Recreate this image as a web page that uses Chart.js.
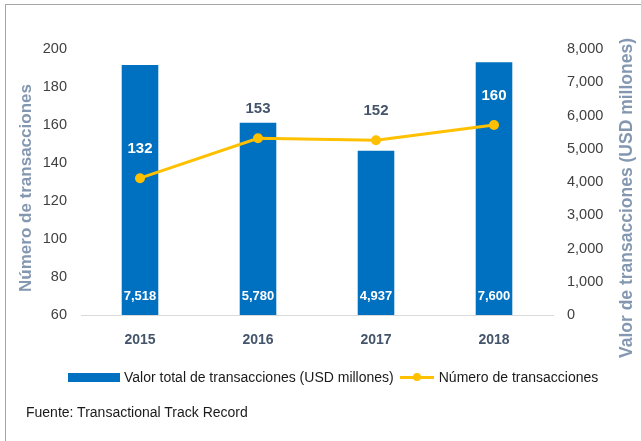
<!DOCTYPE html>
<html>
<head>
<meta charset="utf-8">
<script src="https://cdn.jsdelivr.net/npm/chart.js@4/dist/chart.umd.min.js"></script>
<style>
  body { margin: 0; background: #fff; }
  #wrap { position: relative; width: 641px; height: 441px; overflow: hidden;
          font-family: 'Liberation Sans', Arial, sans-serif; }
  #frame { position: absolute; left: 5px; top: 4px; width: 700px; height: 500px;
           border: 1px solid #a6a6a6; }
  #chart { position: absolute; left: 0; top: 0; }
  #legend { position: absolute; left: 68px; top: 369px; display: flex; align-items: center;
            font-size: 14px; color: #1a1a1a; white-space: nowrap; }
  .key-bar { display: inline-block; width: 52px; height: 9px; background: #0070C0; margin-right: 4px; }
  .key-line { display: inline-block; position: relative; width: 34px; height: 3px;
              background: #FFC000; margin: 0 5px 0 6px; }
  .key-line i { position: absolute; left: 13px; top: -3px; width: 8px; height: 8px;
                border-radius: 50%; background: #FFC000; }
  #fuente { position: absolute; left: 26px; top: 404px; font-size: 14px; color: #1a1a1a; }
</style>
</head>
<body>
<div id="wrap">
  <div id="frame"></div>
  <canvas id="chart" width="641" height="441"></canvas>
  <div id="legend"></div>
  <div id="fuente">Fuente: Transactional Track Record</div>
</div>
<script>
// Data
const years = ['2015', '2016', '2017', '2018'];
const valorTotal = [7518, 5780, 4937, 7600];          // USD millones (right axis)
const numTransacciones = [132, 153, 152, 160];        // left axis
const leftAxisRange = [60, 200, 20];                  // min, max, step
const rightAxisRange = [0, 8000, 1000];

const barLabel = 'Valor total de transacciones (USD millones)';
const lineLabel = 'Número de transacciones';
const leftTitle = 'Número de transacciones';
const rightTitle = 'Valor de transacciones (USD millones)';

const FONT = "'Liberation Sans', Arial, sans-serif";
const fmt = (v) => v.toLocaleString('en-US');

// Data labels and rotated axis titles
const extras = {
  id: 'extras',
  afterDatasetsDraw(chart) {
    const ctx = chart.ctx;
    const area = chart.chartArea;
    const lineMeta = chart.getDatasetMeta(0);
    const barMeta = chart.getDatasetMeta(1);
    ctx.save();
    ctx.textAlign = 'center';
    ctx.textBaseline = 'middle';

    ctx.font = 'bold 13px ' + FONT;
    ctx.fillStyle = '#ffffff';
    barMeta.data.forEach((bar, i) => {
      ctx.fillText(fmt(valorTotal[i]), bar.x, area.bottom - 19);
    });

    ctx.font = 'bold 15px ' + FONT;
    lineMeta.data.forEach((pt, i) => {
      const y = pt.y - 29;
      ctx.fillStyle = y > barMeta.data[i].y ? '#ffffff' : '#44546a';
      ctx.fillText(String(numTransacciones[i]), pt.x, y);
    });

    ctx.fillStyle = '#8497b0';
    ctx.font = 'bold 17px ' + FONT;
    ctx.translate(26, 188);
    ctx.rotate(-Math.PI / 2);
    ctx.fillText(leftTitle, 0, 0);
    ctx.setTransform(1, 0, 0, 1, 0, 0);
    ctx.font = 'bold 17.5px ' + FONT;
    ctx.translate(627, 198);
    ctx.rotate(-Math.PI / 2);
    ctx.fillText(rightTitle, 0, 0);
    ctx.restore();
  }
};

const chart = new Chart(document.getElementById('chart'), {
  type: 'bar',
  data: {
    labels: years,
    datasets: [
      {
        type: 'line',
        label: lineLabel,
        data: numTransacciones,
        yAxisID: 'y',
        order: 0,
        borderColor: '#FFC000',
        backgroundColor: '#FFC000',
        borderWidth: 3,
        pointRadius: 5,
        pointBackgroundColor: '#FFC000',
        pointBorderWidth: 0,
        tension: 0,
      },
      {
        type: 'bar',
        label: barLabel,
        data: valorTotal,
        yAxisID: 'y1',
        order: 1,
        backgroundColor: '#0070C0',
        categoryPercentage: 1,
        barPercentage: 0.31,
      },
    ],
  },
  options: {
    responsive: false,
    animation: false,
    layout: { padding: { top: 49, bottom: 76, left: 0, right: 0 } },
    plugins: { legend: { display: false }, tooltip: { enabled: false } },
    scales: {
      x: {
        grid: { display: false, drawTicks: false },
        border: { display: true, color: '#d9d9d9', width: 1 },
        ticks: { color: '#44546a', font: { family: FONT, size: 14, weight: 'bold' }, padding: 17 },
        afterFit: (s) => { s.height = 50; },
      },
      y: {
        position: 'left',
        min: leftAxisRange[0],
        max: leftAxisRange[1],
        grid: { display: false, drawTicks: false },
        border: { display: false },
        ticks: { stepSize: leftAxisRange[2], color: '#404040', padding: 14,
                 font: { family: FONT, size: 14.5 } },
        afterFit: (s) => { s.width = 81; },
      },
      y1: {
        position: 'right',
        min: rightAxisRange[0],
        max: rightAxisRange[1],
        grid: { display: false, drawTicks: false },
        border: { display: false },
        ticks: { stepSize: rightAxisRange[2], color: '#404040', padding: 14,
                 font: { family: FONT, size: 14.5 }, callback: (v) => fmt(v) },
        afterFit: (s) => { s.width = 88; },
      },
    },
  },
  plugins: [extras],
});

// HTML legend built from the datasets
const legend = document.getElementById('legend');
const barDs = chart.data.datasets[1];
const lineDs = chart.data.datasets[0];
legend.innerHTML =
  '<span class="key-bar"></span><span>' + barDs.label + '</span>' +
  '<span class="key-line"><i></i></span><span>' + lineDs.label + '</span>';
</script>
</body>
</html>
